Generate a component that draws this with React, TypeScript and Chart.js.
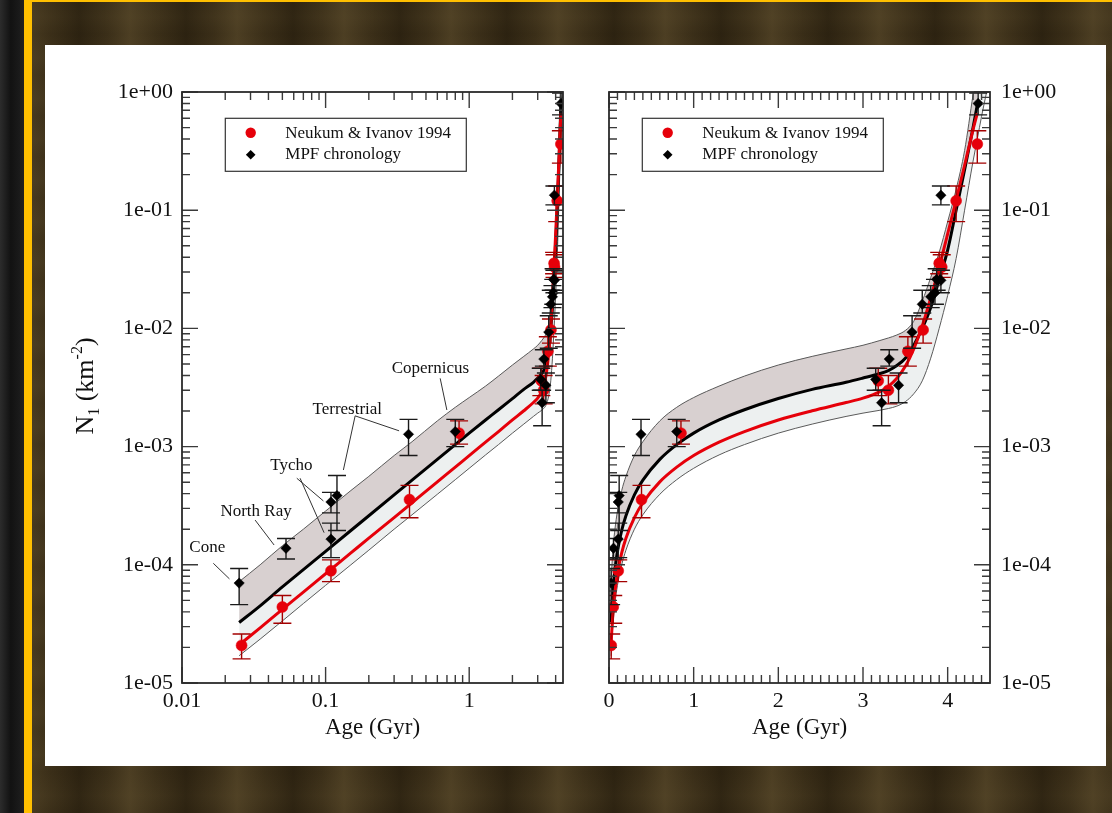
import React, { useEffect, useRef } from "react";
import { Chart, registerables } from "chart.js";
Chart.register(...registerables);

const FONT = '"Liberation Serif", "DejaVu Serif", "Times New Roman", serif';

// ---- model curves ----
const curveAge = [0.025, 0.035, 0.05, 0.07, 0.1, 0.15, 0.2, 0.3, 0.4, 0.6, 0.8, 1.0, 1.3, 1.6, 2.0, 2.4, 2.8, 3.0, 3.2, 3.3, 3.4, 3.5, 3.6, 3.7, 3.8, 3.9, 4.0, 4.1, 4.2, 4.3, 4.35];
const mpfLine = [3.25e-5, 4.5e-5, 6.5e-5, 9.1e-5, 1.3e-4, 1.95e-4, 2.6e-4, 3.9e-4, 5.2e-4, 7.8e-4, 1.04e-3, 1.3e-3, 1.68e-3, 2.05e-3, 2.55e-3, 3.05e-3, 3.5e-3, 3.8e-3, 4.15e-3, 4.4e-3, 4.85e-3, 5.6e-3, 7.2e-3, 1.0e-2, 1.5e-2, 2.6e-2, 4.6e-2, 0.1, 0.22, 0.5, 0.78];
const neukumLine = [2.1e-5, 2.93e-5, 4.2e-5, 5.87e-5, 8.4e-5, 1.26e-4, 1.68e-4, 2.51e-4, 3.35e-4, 5.03e-4, 6.7e-4, 8.4e-4, 1.09e-3, 1.34e-3, 1.68e-3, 2.01e-3, 2.36e-3, 2.57e-3, 2.92e-3, 3.23e-3, 3.78e-3, 4.78e-3, 6.7e-3, 1.05e-2, 1.81e-2, 3.3e-2, 6.3e-2, 0.122, 0.24, 0.48, 0.66];

const bandAge = [0.025, 0.035, 0.05, 0.07, 0.1, 0.15, 0.2, 0.3, 0.4, 0.6, 0.8, 1.0, 1.3, 1.6, 2.0, 2.4, 2.8, 3.0, 3.2, 3.3, 3.4, 3.5, 3.6, 3.7, 3.8, 3.9, 4.0, 4.1, 4.2, 4.3, 4.35, 4.4, 4.46];
const bandUpper = [7.2e-5, 1.0e-4, 1.45e-4, 2.0e-4, 2.85e-4, 4.25e-4, 5.6e-4, 8.4e-4, 1.1e-3, 1.65e-3, 2.15e-3, 2.6e-3, 3.25e-3, 3.95e-3, 4.9e-3, 5.8e-3, 6.7e-3, 7.2e-3, 7.9e-3, 8.3e-3, 8.8e-3, 9.6e-3, 1.15e-2, 1.7e-2, 2.7e-2, 4.4e-2, 8.0e-2, 0.15, 0.32, 0.95, 1.6, 2.6, 4.5];
const bandLower = [1.7e-5, 2.35e-5, 3.35e-5, 4.7e-5, 6.7e-5, 1.0e-4, 1.33e-4, 2.0e-4, 2.65e-4, 3.95e-4, 5.25e-4, 6.55e-4, 8.5e-4, 1.04e-3, 1.3e-3, 1.55e-3, 1.8e-3, 1.92e-3, 2.03e-3, 2.1e-3, 2.2e-3, 2.4e-3, 2.8e-3, 3.6e-3, 5.6e-3, 1.0e-2, 1.9e-2, 3.9e-2, 0.1, 0.26, 0.4, 0.62, 1.0];

// ---- MPF chronology points ----
const mpfAge = [0.025, 0.053, 0.109, 0.109, 0.12, 0.378, 0.8, 3.15, 3.22, 3.31, 3.42, 3.58, 3.7, 3.8, 3.85, 3.87, 3.92, 3.92, 4.36];
const mpfN = [7.0e-5, 1.38e-4, 3.4e-4, 1.65e-4, 3.85e-4, 1.27e-3, 1.34e-3, 3.7e-3, 2.35e-3, 5.5e-3, 3.3e-3, 9.3e-3, 1.6e-2, 1.85e-2, 2.0e-2, 2.6e-2, 2.55e-2, 0.134, 0.8];
const mpfLo = [4.6e-5, 1.12e-4, 2.75e-4, 1.15e-4, 1.95e-4, 8.4e-4, 1.0e-3, 3.0e-3, 1.5e-3, 4.8e-3, 2.35e-3, 6.8e-3, 1.35e-2, 1.5e-2, 1.6e-2, 2.1e-2, 2.0e-2, 0.111, 0.64];
const mpfHi = [9.3e-5, 1.67e-4, 4.1e-4, 2.25e-4, 5.7e-4, 1.7e-3, 1.7e-3, 4.6e-3, 3.0e-3, 6.6e-3, 4.2e-3, 1.28e-2, 2.1e-2, 2.3e-2, 2.6e-2, 3.2e-2, 3.1e-2, 0.16, 0.98];

// ---- Neukum & Ivanov 1994 points ----
const niAge = [0.026, 0.05, 0.109, 0.384, 0.85, 3.18, 3.3, 3.53, 3.71, 3.9, 3.93, 4.1, 4.35];
const niN = [2.08e-5, 4.4e-5, 8.9e-5, 3.56e-4, 1.3e-3, 3.6e-3, 3.0e-3, 6.4e-3, 9.7e-3, 3.56e-2, 3.3e-2, 0.12, 0.363];
const niLo = [1.6e-5, 3.2e-5, 7.2e-5, 2.5e-4, 1.05e-3, 2.7e-3, 2.3e-3, 4.8e-3, 7.5e-3, 2.9e-2, 2.7e-2, 0.08, 0.25];
const niHi = [2.6e-5, 5.5e-5, 1.1e-4, 4.7e-4, 1.65e-3, 4.6e-3, 4.0e-3, 8.5e-3, 1.2e-2, 4.4e-2, 4.2e-2, 0.16, 0.47];

// ---- ticks / labels ----
const yTicks = [1e-5, 1e-4, 1e-3, 1e-2, 1e-1, 1];
const yTickLabels = ["1e-05", "1e-04", "1e-03", "1e-02", "1e-01", "1e+00"];
const logXTicks = [0.01, 0.1, 1];
const logXLabels = ["0.01", "0.1", "1"];
const linXTicks = [0, 1, 2, 3, 4];
const linXLabels = ["0", "1", "2", "3", "4"];
const legendLabels = ["Neukum & Ivanov 1994", "MPF chronology"];
const xTitle = "Age (Gyr)";

// ---- annotations (left panel) ----
const annText = ["Cone", "North Ray", "Tycho", "Terrestrial", "Copernicus"];
const annAge = [0.015, 0.0328, 0.0577, 0.1416, 0.537];
const annN = [1.39e-4, 2.81e-4, 6.95e-4, 2.07e-3, 4.55e-3];
const leaderFromAge = [0.01652, 0.0323, 0.063, 0.0664, 0.1606, 0.1606, 0.628];
const leaderFromN = [1.03e-4, 2.39e-4, 5.4e-4, 5.4e-4, 1.82e-3, 1.82e-3, 3.78e-3];
const leaderToAge = [0.0214, 0.0438, 0.0965, 0.0976, 0.133, 0.325, 0.699];
const leaderToN = [7.6e-5, 1.47e-4, 3.47e-4, 1.87e-4, 6.34e-4, 1.36e-3, 2.04e-3];

const RED = "#e6000a";

const pts = (xs: number[], ys: number[]) => xs.map((x, i) => ({ x, y: ys[i] }));

const errorBarPlugin = {
  id: "errbars",
  beforeDatasetDraw(chart: any, args: any) {
    const ds: any = chart.data.datasets[args.index];
    if (!ds.errLo) return;
    const { ctx, chartArea: a } = chart;
    const xs = chart.scales.x, ys = chart.scales.y;
    ctx.save();
    ctx.beginPath();
    ctx.rect(a.left, a.top, a.right - a.left, a.bottom - a.top);
    ctx.clip();
    ctx.strokeStyle = ds.errColor;
    ctx.lineWidth = 1.4;
    ds.data.forEach((p: any, i: number) => {
      const px = xs.getPixelForValue(p.x);
      const y1 = ys.getPixelForValue(ds.errLo[i]);
      const y2 = ys.getPixelForValue(ds.errHi[i]);
      ctx.beginPath();
      ctx.moveTo(px, y1); ctx.lineTo(px, y2);
      ctx.moveTo(px - 9, y1); ctx.lineTo(px + 9, y1);
      ctx.moveTo(px - 9, y2); ctx.lineTo(px + 9, y2);
      ctx.stroke();
    });
    ctx.restore();
  },
};

function drawYTitle(ctx: CanvasRenderingContext2D, cx: number, cy: number) {
  const parts = [
    { t: "N", s: 26, dy: 0 },
    { t: "1", s: 16, dy: 6 },
    { t: " (km", s: 26, dy: 0 },
    { t: "-2", s: 16, dy: -11 },
    { t: ")", s: 26, dy: 0 },
  ];
  ctx.save();
  ctx.translate(cx, cy);
  ctx.rotate(-Math.PI / 2);
  ctx.fillStyle = "#111";
  ctx.textBaseline = "alphabetic";
  ctx.textAlign = "left";
  let total = 0;
  parts.forEach((p) => { ctx.font = `${p.s}px ${FONT}`; total += ctx.measureText(p.t).width; });
  let x = -total / 2;
  parts.forEach((p) => {
    ctx.font = `${p.s}px ${FONT}`;
    ctx.fillText(p.t, x, p.dy);
    x += ctx.measureText(p.t).width;
  });
  ctx.restore();
}

const decorPlugin = (kind: "log" | "lin") => ({
  id: "decor",
  afterDatasetsDraw(chart: any) {
    const { ctx, chartArea: a, scales } = chart;
    const xs = scales.x, ys = scales.y;
    ctx.save();
    ctx.strokeStyle = "#3a3a3a";
    ctx.lineWidth = 1.4;
    ctx.beginPath();
    const hTick = (v: number, len: number) => {
      const p = ys.getPixelForValue(v);
      ctx.moveTo(a.left, p); ctx.lineTo(a.left + len, p);
      ctx.moveTo(a.right, p); ctx.lineTo(a.right - len, p);
    };
    const vTick = (v: number, len: number) => {
      const p = xs.getPixelForValue(v);
      ctx.moveTo(p, a.bottom); ctx.lineTo(p, a.bottom - len);
      ctx.moveTo(p, a.top); ctx.lineTo(p, a.top + len);
    };
    yTicks.forEach((d, i) => {
      hTick(d, 16);
      if (i < yTicks.length - 1) for (let m = 2; m <= 9; m++) hTick(d * m, 8);
    });
    if (kind === "log") {
      logXTicks.forEach((d) => {
        vTick(d, 16);
        for (let m = 2; m <= 9; m++) if (d * m <= 4.5) vTick(d * m, 8);
      });
    } else {
      linXTicks.forEach((d) => vTick(d, 16));
      for (let i = 1; i < 45; i++) if (i % 10 !== 0) vTick(i / 10, 8);
    }
    ctx.stroke();
    ctx.lineWidth = 1.8;
    ctx.strokeStyle = "#2b2b2b";
    ctx.strokeRect(a.left, a.top, a.right - a.left, a.bottom - a.top);
    ctx.restore();
  },
  afterDraw(chart: any) {
    const { ctx, chartArea: a, scales } = chart;
    const xs = scales.x, ys = scales.y;
    ctx.save();
    // legend
    const bx = a.left + (kind === "log" ? 43.3 : 33.3);
    const by = a.top + 26.3;
    ctx.fillStyle = "#fff";
    ctx.fillRect(bx, by, 241, 53);
    ctx.strokeStyle = "#333";
    ctx.lineWidth = 1.2;
    ctx.strokeRect(bx, by, 241, 53);
    ctx.fillStyle = RED;
    ctx.beginPath();
    ctx.arc(bx + 25.4, by + 14.5, 5.2, 0, Math.PI * 2);
    ctx.fill();
    ctx.fillStyle = "#000";
    ctx.beginPath();
    const dx = bx + 25.4, dy = by + 36.5, r = 4.8;
    ctx.moveTo(dx - r, dy); ctx.lineTo(dx, dy - r); ctx.lineTo(dx + r, dy); ctx.lineTo(dx, dy + r);
    ctx.closePath();
    ctx.fill();
    ctx.fillStyle = "#111";
    ctx.font = `17px ${FONT}`;
    ctx.textAlign = "left";
    ctx.textBaseline = "middle";
    ctx.fillText(legendLabels[0], bx + 60, by + 15);
    ctx.fillText(legendLabels[1], bx + 60, by + 36.5);

    if (kind === "log") {
      // annotations
      ctx.strokeStyle = "#333";
      ctx.lineWidth = 1;
      ctx.beginPath();
      leaderFromAge.forEach((fa, i) => {
        ctx.moveTo(xs.getPixelForValue(fa), ys.getPixelForValue(leaderFromN[i]));
        ctx.lineTo(xs.getPixelForValue(leaderToAge[i]), ys.getPixelForValue(leaderToN[i]));
      });
      ctx.stroke();
      ctx.fillStyle = "#111";
      ctx.font = `17px ${FONT}`;
      ctx.textAlign = "center";
      ctx.textBaseline = "middle";
      annText.forEach((t, i) => {
        ctx.fillText(t, xs.getPixelForValue(annAge[i]), ys.getPixelForValue(annN[i]));
      });
      drawYTitle(ctx, 48, 386 - 45);
    }
    ctx.restore();
  },
});

function makeConfig(kind: "log" | "lin"): any {
  const xt = kind === "log" ? logXTicks : linXTicks;
  const xl = kind === "log" ? logXLabels : linXLabels;
  const line = (xsArr: number[], ysArr: number[], extra: any) => ({
    type: "line",
    data: pts(xsArr, ysArr),
    pointRadius: 0,
    cubicInterpolationMode: "monotone",
    fill: false,
    ...extra,
  });
  return {
    type: "line",
    data: {
      datasets: [
        {
          label: legendLabels[1],
          data: pts(mpfAge, mpfN),
          showLine: false,
          pointStyle: "rectRot",
          pointRadius: 5.2,
          pointBackgroundColor: "#000",
          pointBorderColor: "#000",
          pointBorderWidth: 0.5,
          errLo: mpfLo, errHi: mpfHi, errColor: "#1a1a1a",
          order: 0,
        },
        {
          label: legendLabels[0],
          data: pts(niAge, niN),
          showLine: false,
          pointStyle: "circle",
          pointRadius: 5.5,
          pointBackgroundColor: RED,
          pointBorderColor: RED,
          pointBorderWidth: 0.5,
          errLo: niLo, errHi: niHi, errColor: "#a30000",
          order: 1,
        },
        line(curveAge, neukumLine, { borderColor: RED, borderWidth: 3, order: 2 }),
        line(curveAge, mpfLine, { borderColor: "#000", borderWidth: 3, order: 3 }),
        line(bandAge, bandLower, { borderColor: "#5a5a5a", borderWidth: 1, order: 4 }),
        line(bandAge, bandUpper, { borderColor: "#5a5a5a", borderWidth: 1, fill: 3, backgroundColor: "#d8d0d0", order: 5 }),
        line(bandAge, bandUpper, { borderColor: "rgba(0,0,0,0)", borderWidth: 0, fill: 4, backgroundColor: "#edf0f0", order: 6 }),
      ],
    },
    options: {
      responsive: false,
      animation: false,
      devicePixelRatio: 1,
      events: [],
      layout: { padding: kind === "log" ? { top: 47, right: 27, left: 0, bottom: 0 } : { top: 47, left: 19, right: 0, bottom: 0 } },
      plugins: { legend: { display: false }, tooltip: { enabled: false } },
      scales: {
        x: {
          type: kind === "log" ? "logarithmic" : "linear",
          min: kind === "log" ? 0.01 : 0,
          max: 4.5,
          bounds: "data",
          position: "bottom",
          afterBuildTicks: (s: any) => { s.ticks = xt.map((v) => ({ value: v })); },
          afterFit: (s: any) => { s.height = 82; },
          grid: { display: false, drawTicks: false },
          border: { display: false },
          ticks: {
            autoSkip: false, maxRotation: 0, padding: 5, color: "#111",
            font: { family: FONT, size: 22 },
            callback: (v: any) => { const i = xt.indexOf(Number(v)); return i >= 0 ? xl[i] : ""; },
          },
          title: { display: true, text: xTitle, color: "#111", font: { family: FONT, size: 23 }, padding: { top: 0, bottom: 23 } },
        },
        y: {
          type: "logarithmic",
          min: 1e-5,
          max: 1,
          bounds: "data",
          position: kind === "log" ? "left" : "right",
          afterBuildTicks: (s: any) => { s.ticks = yTicks.map((v) => ({ value: v })); },
          afterFit: (s: any) => { s.width = kind === "log" ? 137 : 116; },
          grid: { display: false, drawTicks: false },
          border: { display: false },
          ticks: {
            autoSkip: false, padding: kind === "log" ? 9 : 11, color: "#111",
            font: { family: FONT, size: 22 },
            callback: (v: any) => { const i = yTicks.indexOf(Number(v)); return i >= 0 ? yTickLabels[i] : ""; },
          },
        },
      },
    },
    plugins: [errorBarPlugin, decorPlugin(kind)],
  };
}

export default function App() {
  const leftRef = useRef<HTMLCanvasElement>(null);
  const rightRef = useRef<HTMLCanvasElement>(null);
  useEffect(() => {
    const c1 = new Chart(leftRef.current as HTMLCanvasElement, makeConfig("log"));
    const c2 = new Chart(rightRef.current as HTMLCanvasElement, makeConfig("lin"));
    return () => { c1.destroy(); c2.destroy(); };
  }, []);
  return (
    <div
      style={{
        position: "fixed", left: 0, top: 0, width: 1112, height: 813, overflow: "hidden",
        background:
          "repeating-linear-gradient(90deg, rgba(0,0,0,0) 0px, rgba(110,92,55,0.35) 23px, rgba(0,0,0,0) 51px, rgba(18,12,3,0.35) 79px, rgba(0,0,0,0) 107px), repeating-linear-gradient(0deg, rgba(0,0,0,0) 0px, rgba(80,66,38,0.3) 17px, rgba(0,0,0,0) 41px), #3a2e18",
      }}
    >
      <div style={{ position: "absolute", left: 0, top: 0, width: 24, height: 813, background: "linear-gradient(90deg, #2c2c2c, #121212 45%, #1f1f1f)" }} />
      <div style={{ position: "absolute", left: 24, top: 0, width: 8, height: 813, background: "#ffbf00" }} />
      <div style={{ position: "absolute", left: 24, top: 0, width: 1088, height: 2, background: "#ffbf00" }} />
      <div style={{ position: "absolute", left: 45, top: 45, width: 1061, height: 721, background: "#ffffff" }} />
      <canvas ref={leftRef} width={545} height={720} style={{ position: "absolute", left: 45, top: 45 }} />
      <canvas ref={rightRef} width={516} height={720} style={{ position: "absolute", left: 590, top: 45 }} />
    </div>
  );
}
